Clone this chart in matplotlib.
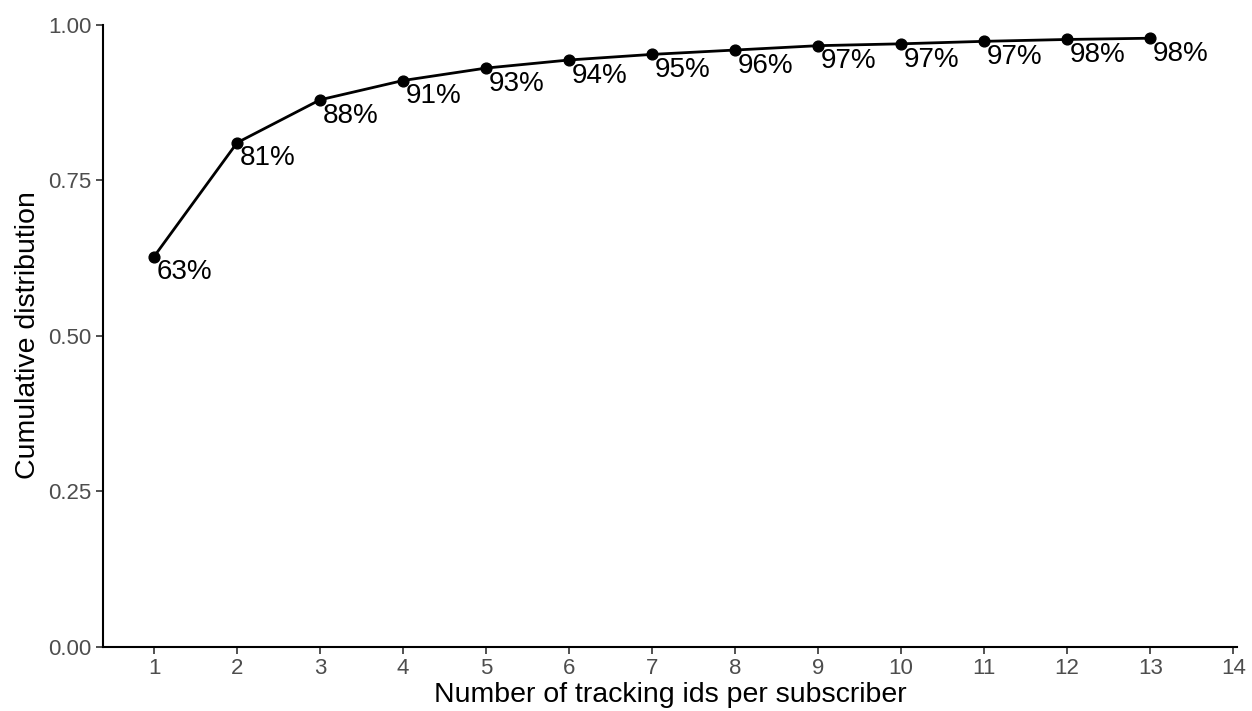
import matplotlib
matplotlib.use("Agg")
import matplotlib.pyplot as plt

# cumulative share of subscribers by number of tracking ids
n_ids = [1, 2, 3, 4, 5, 6, 7, 8, 9, 10, 11, 12, 13]
cum_share = [0.627, 0.810, 0.879, 0.910, 0.930, 0.943, 0.952,
             0.959, 0.966, 0.969, 0.973, 0.976, 0.978]
x_ticks = list(range(1, 15))
y_ticks = [0.00, 0.25, 0.50, 0.75, 1.00]

plt.rcParams["font.family"] = ["Liberation Sans", "DejaVu Sans"]

fig = plt.figure(figsize=(12.52, 7.11), dpi=100)
ax = fig.add_axes([0.0823, 0.0907, 0.906, 0.8748])

ax.plot(n_ids, cum_share, color="black", lw=2.0, zorder=2)
ax.scatter(n_ids, cum_share, color="black", s=60, zorder=3)
for x, y in zip(n_ids, cum_share):
    ax.annotate(f"{y * 100:.0f}%", (x, y), xytext=(2, -2), textcoords="offset points",
                ha="left", va="top", fontsize=20)

ax.set_xlim(0.385, 14.05)
ax.set_ylim(0, 1)
ax.set_xticks(x_ticks)
ax.set_yticks(y_ticks)
ax.set_yticklabels([f"{v:.2f}" for v in y_ticks])
ax.tick_params(colors="#333333", labelcolor="#4d4d4d", labelsize=16, length=5, width=1.2)
for side in ("top", "right"):
    ax.spines[side].set_visible(False)
for side in ("left", "bottom"):
    ax.spines[side].set_linewidth(1.5)
ax.set_xlabel("Number of tracking ids per subscriber", fontsize=20.5, labelpad=2)
ax.set_ylabel("Cumulative distribution", fontsize=20.5, labelpad=5)

fig.savefig("out.png", dpi=100)
